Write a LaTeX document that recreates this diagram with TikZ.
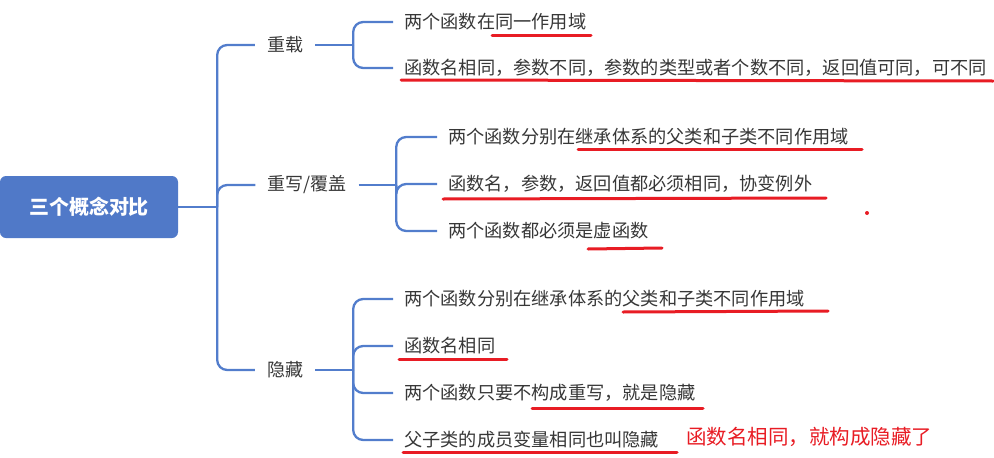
\documentclass[tikz,border=0pt]{standalone}
\usepackage{fontspec}
\setmainfont{Noto Sans CJK SC}
\usepackage{tikz}
\usetikzlibrary{positioning,calc}
\definecolor{branch}{RGB}{82,125,204}
\definecolor{rootfill}{RGB}{80,121,200}
\definecolor{ink}{RGB}{55,55,55}
\definecolor{pen}{RGB}{232,28,36}

\begin{document}
\begin{tikzpicture}[x=1pt,y=-1pt,
  root/.style={fill=rootfill,rounded corners=6pt,minimum width=178pt,minimum height=62pt,text=white,font=\fontsize{20}{24}\selectfont\bfseries},
  topic/.style={inner xsep=12pt,inner ysep=2pt,text=ink,font=\fontsize{18}{22}\selectfont},
  leaf/.style={anchor=west,inner xsep=11pt,inner ysep=2pt,text=ink,font=\fontsize{18.2}{22}\selectfont},
  link/.style={draw=branch,line width=2.3pt,rounded corners=10pt},
  redline/.style={draw=pen,line width=3pt,line cap=round}
]
\useasboundingbox (0,0) rectangle (994,458);
% Root and main topics
\node[root]  (root) at (89,207)  {三个概念对比};
\node[topic] (cz)   at (285,45)  {重载};
\node[topic] (cx)   at (307,185) {重写/覆盖};
\node[topic] (yc)   at (285,370) {隐藏};
% Overloading
\node[leaf] (cz1) at (393,22)  {两个函数在同一作用域};
\node[leaf] (cz2) at (393,68)  {函数名相同，参数不同，参数的类型或者个数不同，返回值可同，可不同};
% Overriding
\node[leaf] (cx1) at (437,137) {两个函数分别在继承体系的父类和子类不同作用域};
\node[leaf] (cx2) at (437,184) {函数名，参数，返回值都必须相同，协变例外};
\node[leaf] (cx3) at (437,231) {两个函数都必须是虚函数};
% Hiding
\node[leaf] (yc1) at (393,299) {两个函数分别在继承体系的父类和子类不同作用域};
\node[leaf] (yc2) at (393,346) {函数名相同};
\node[leaf] (yc3) at (393,393) {两个函数只要不构成重写，就是隐藏};
\node[leaf] (yc4) at (393,440) {父子类的成员变量相同也叫隐藏};
\node[anchor=west,inner sep=0pt,text=pen,font=\fontsize{20.5}{24}\selectfont] (note) at (686,437) {函数名相同，就构成隐藏了};

% Branch points
\coordinate (hub)   at ($(root.east)+(39,0)$);
\coordinate (czhub) at ($(cz.east)+(38,0)$);
\coordinate (cxhub) at ($(cx.east)+(37.5,0)$);
\coordinate (ychub) at ($(yc.east)+(38,0)$);

% Branches
\draw[link] (root.east) -- (hub);
\foreach \t in {cz,cx,yc}
  \draw[link] (hub) |- (\t.west);
\draw[link] (cz.east) -- (czhub);
\foreach \c in {cz1,cz2}
  \draw[link] (czhub) |- (\c.west);
\draw[link] (cx.east) -- (cxhub);
\foreach \c in {cx1,cx2,cx3}
  \draw[link] (cxhub) |- (\c.west);
\draw[link] (yc.east) -- (ychub);
\foreach \c in {yc1,yc2,yc3,yc4}
  \draw[link] (ychub) |- (\c.west);

% Hand-drawn marks
\draw[redline] (492,35) -- (591,35);
\draw[redline] (401,80) -- (993,81);
\draw[redline] (578,149) -- (862,149);
\draw[redline] (443,199) -- (826,198);
\fill[pen] (867,213) circle (2);
\draw[redline] (588,249) -- (662,248);
\draw[redline] (623,312) -- (828,311);
\draw[redline] (399,359) -- (507,359);
\draw[redline] (532,408) -- (703,408);
\draw[redline] (403,452) -- (677,452);
\end{tikzpicture}
\end{document}
